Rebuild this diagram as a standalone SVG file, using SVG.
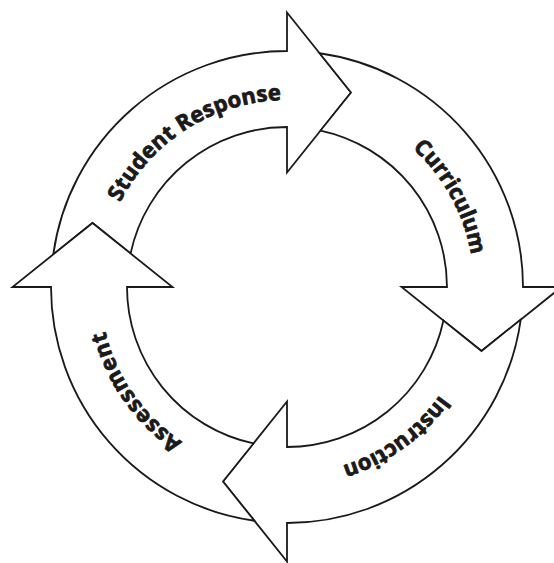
<svg xmlns="http://www.w3.org/2000/svg" xmlns:xlink="http://www.w3.org/1999/xlink" width="554" height="563" viewBox="0 0 554 563">
<style>
.arrow{fill:#fff;stroke:#1a1a1a;stroke-width:1.8;stroke-linejoin:miter}
.lbl{font-family:"Open Sans","Liberation Sans",sans-serif;font-weight:700;font-size:22px;fill:#1a1a1a;stroke:#1a1a1a;stroke-width:0.8;stroke-linejoin:round;text-anchor:middle}
</style>
<defs>
<path id="ring" d="M 474 287 A 187 187 0 1 1 100 287 A 187 187 0 1 1 474 287"/>
</defs>
<rect width="554" height="563" fill="#fff"/>
<g id="connectors"></g>
<g id="student-response">
<path class="arrow" d="M 53.26 254.39 A 236 236 0 0 1 287 51 L 287 12.5 L 351 92.5 L 287 172.5 L 287 127 A 160 160 0 0 0 130.56 253.45 L 92.5 223 Z"/>
<text class="lbl" letter-spacing="0.2"><textPath href="#ring" xlink:href="#ring" startOffset="775">Student Response</textPath></text>
</g>
<g id="curriculum">
<path class="arrow" d="M 319.61 53.26 A 236 236 0 0 1 523 287 L 561.5 287 L 481.5 351 L 401.5 287 L 447 287 A 160 160 0 0 0 320.55 130.56 L 351 92.5 Z"/>
<text class="lbl"><textPath href="#ring" xlink:href="#ring" startOffset="1080.3">Curriculum</textPath></text>
</g>
<g id="instruction">
<path class="arrow" d="M 520.74 319.61 A 236 236 0 0 1 287 523 L 287 561.5 L 223 481.5 L 287 401.5 L 287 447 A 160 160 0 0 0 443.44 320.55 L 481.5 351 Z"/>
<text class="lbl"><textPath href="#ring" xlink:href="#ring" startOffset="176.2">Instruction</textPath></text>
</g>
<g id="assessment">
<path class="arrow" d="M 254.39 520.74 A 236 236 0 0 1 51 287 L 12.5 287 L 92.5 223 L 172.5 287 L 127 287 A 160 160 0 0 0 253.45 443.44 L 223 481.5 Z"/>
<text class="lbl" letter-spacing="0.8"><textPath href="#ring" xlink:href="#ring" startOffset="474">Assessment</textPath></text>
</g>
</svg>
